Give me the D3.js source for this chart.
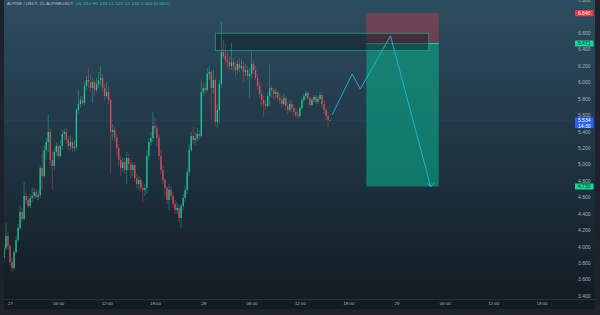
<!DOCTYPE html>
<html><head><meta charset="utf-8">
<script src="https://cdn.jsdelivr.net/npm/d3@7"></script>
<style>html,body{margin:0;padding:0;background:#1e222d;overflow:hidden}svg{display:block}</style>
</head><body><svg id="c" width="600" height="315"></svg>
<script>
// ---- data (ALPINE/USDT 15m) ----
const firstCandle = "2021-12-26T23:15";
const opens = [3.859,3.981,4.127,4.005,3.810,3.737,3.932,4.078,4.224,4.419,4.334,4.614,4.565,4.492,4.589,4.614,4.662,4.602,4.626,4.955,4.857,5.174,5.271,5.393,5.052,4.979,5.150,5.223,5.101,5.223,5.369,5.393,5.296,5.223,5.271,5.198,5.211,5.661,5.734,5.783,5.746,5.954,6.027,6.002,5.929,6.002,5.905,5.978,6.027,6.051,5.929,5.832,5.880,5.783,5.393,5.418,5.332,5.198,5.052,4.955,5.028,4.930,5.077,5.003,4.930,4.991,4.833,4.760,4.809,4.711,4.687,4.711,5.101,5.271,5.320,5.466,5.442,5.320,5.101,4.930,4.809,4.711,4.565,4.687,4.614,4.516,4.443,4.468,4.346,4.492,4.589,4.687,4.906,5.174,5.345,5.296,5.320,5.369,5.345,5.880,5.929,5.905,6.100,6.124,5.929,6.027,5.515,5.661,5.978,6.368,6.319,6.270,6.246,6.197,6.246,6.197,6.148,6.222,6.173,6.197,6.124,6.148,6.075,6.100,6.222,6.148,6.051,5.954,5.856,5.783,5.734,5.710,5.832,5.929,5.905,5.856,5.880,5.807,5.783,5.734,5.807,5.710,5.661,5.734,5.686,5.637,5.600,5.588,5.686,5.783,5.832,5.868,5.807,5.722,5.783,5.820,5.759,5.795,5.844,5.734,5.661,5.588,5.534];
const highs = [4.029,4.285,4.175,4.029,3.859,3.956,4.127,4.273,4.504,4.468,4.784,4.662,4.614,4.638,4.723,4.711,4.699,4.687,4.979,5.137,5.235,5.320,5.600,5.442,5.174,5.198,5.271,5.259,5.296,5.418,5.442,5.442,5.345,5.357,5.320,5.296,5.686,5.905,5.832,5.832,6.002,6.075,6.173,6.088,6.051,6.027,6.051,6.124,6.197,6.100,5.978,6.002,5.954,5.807,5.491,5.466,5.369,5.247,5.101,5.077,5.077,5.150,5.125,5.052,5.028,5.028,4.882,4.857,4.833,4.784,4.760,5.174,5.320,5.393,5.637,5.564,5.491,5.369,5.174,4.979,4.833,4.736,4.760,4.736,4.662,4.565,4.541,4.516,4.516,4.638,4.736,4.955,5.247,5.393,5.454,5.393,5.442,5.418,6.027,5.978,6.002,6.173,6.197,6.148,6.148,6.051,5.734,6.027,6.733,6.514,6.465,6.368,6.319,6.477,6.295,6.246,6.270,6.295,6.270,6.246,6.222,6.197,6.173,6.368,6.270,6.197,6.100,6.002,5.905,5.832,5.783,5.880,6.222,5.954,5.929,5.929,5.905,5.856,5.832,5.856,5.832,5.759,5.783,5.783,5.734,5.686,5.661,5.710,5.807,5.856,5.893,5.893,5.832,5.807,5.844,5.844,5.832,5.880,5.868,5.783,5.686,5.637,5.535];
const lows = [3.810,3.956,3.956,3.761,3.688,3.712,3.907,4.054,4.200,4.297,4.309,4.516,4.468,4.468,4.541,4.577,4.577,4.565,4.589,4.687,4.833,5.052,5.150,4.979,4.687,4.930,5.101,5.052,5.077,5.174,5.296,5.247,5.174,5.174,5.150,5.150,5.174,5.612,5.686,5.710,5.722,5.905,5.929,5.880,5.746,5.832,5.880,5.929,5.954,5.880,5.783,5.807,5.734,4.894,5.296,5.271,5.101,4.979,4.857,4.906,4.882,4.760,4.930,4.833,4.857,4.784,4.711,4.687,4.662,4.528,4.614,4.638,5.052,5.223,5.271,5.369,5.223,5.052,4.882,4.760,4.602,4.516,4.443,4.565,4.468,4.395,4.395,4.285,4.224,4.443,4.541,4.638,4.857,5.150,5.247,5.235,5.271,5.296,5.320,5.832,5.856,5.880,6.027,5.539,5.856,5.466,5.442,5.491,5.929,6.295,6.222,6.173,6.148,6.148,6.124,6.075,6.112,6.124,6.148,6.002,6.075,6.027,5.807,6.051,6.100,6.027,5.905,5.807,5.710,5.576,5.661,5.686,5.710,5.807,5.783,5.807,5.759,5.734,5.686,5.710,5.661,5.612,5.637,5.637,5.588,5.564,5.552,5.564,5.661,5.759,5.795,5.783,5.698,5.710,5.759,5.734,5.734,5.783,5.686,5.612,5.539,5.454,5.527];
const closes = [3.981,4.127,4.005,3.810,3.737,3.932,4.078,4.224,4.419,4.334,4.614,4.565,4.492,4.589,4.614,4.662,4.602,4.626,4.955,4.857,5.174,5.271,5.393,5.052,4.979,5.150,5.223,5.101,5.223,5.369,5.393,5.296,5.223,5.271,5.198,5.211,5.661,5.734,5.783,5.746,5.954,6.027,6.002,5.929,6.002,5.905,5.978,6.027,6.051,5.929,5.832,5.880,5.783,5.393,5.418,5.332,5.198,5.052,4.955,5.028,4.930,5.077,5.003,4.930,4.991,4.833,4.760,4.809,4.711,4.687,4.711,5.101,5.271,5.320,5.466,5.442,5.320,5.101,4.930,4.809,4.711,4.565,4.687,4.614,4.516,4.443,4.468,4.346,4.492,4.589,4.687,4.906,5.174,5.345,5.296,5.320,5.369,5.345,5.880,5.929,5.905,6.100,6.124,5.929,6.027,5.515,5.661,5.978,6.368,6.319,6.270,6.246,6.197,6.246,6.197,6.148,6.222,6.173,6.197,6.124,6.148,6.075,6.100,6.222,6.148,6.051,5.954,5.856,5.783,5.734,5.710,5.832,5.929,5.905,5.856,5.880,5.807,5.783,5.734,5.807,5.710,5.661,5.734,5.686,5.637,5.600,5.588,5.686,5.783,5.832,5.868,5.807,5.722,5.783,5.820,5.759,5.795,5.844,5.734,5.661,5.588,5.539,5.534];

// 6.800 is hidden behind the 6.840 stop tag in the reference, so it is not listed
const priceTicks = [3.4,3.6,3.8,4.0,4.2,4.4,4.6,4.8,5.0,5.2,5.4,5.6,5.8,6.0,6.2,6.4,6.6,7.0];
const timeTicks = ["2021-12-27T00:00","2021-12-27T06:00","2021-12-27T12:00","2021-12-27T18:00","2021-12-28T00:00","2021-12-28T06:00","2021-12-28T12:00","2021-12-28T18:00","2021-12-29T00:00","2021-12-29T06:00","2021-12-29T12:00","2021-12-29T18:00"];
const timeTickLabels = ["27","06:00","12:00","18:00","28","06:00","12:00","18:00","29","06:00","12:00","18:00"];

// supply zone rectangle
const zoneTimes = ["2021-12-28T01:30","2021-12-29T04:00"];
const zonePrices = [6.596, 6.385];
// short position: stop, entry, target
const positionTimes = ["2021-12-28T20:15","2021-12-29T05:15"];
const positionPrices = [6.840, 6.471, 4.730];
// projected path
const pathTimes = ["2021-12-28T16:00","2021-12-28T18:30","2021-12-28T19:30","2021-12-28T23:15","2021-12-29T04:15"];
const pathPrices = [5.600, 6.100, 5.917, 6.563, 4.727];
const lastPrice = 5.534;
const countdown = "14:30";
const titleMain = "ALPINE / USDT, 15, ALPINEUSDT";
const titleValues = "O5.534 H5.535 L5.527 C5.534 0.000 (0.00%)";

// ---- drawing ----
const parse = d3.timeParse("%Y-%m-%dT%H:%M");
const t0 = parse(firstCandle);
const candles = opens.map((o,i)=>({t:new Date(t0.getTime()+i*15*60000),o,h:highs[i],l:lows[i],c:closes[i]}));

const svg = d3.select("#c");
const W = 600, H = 315;
const x = d3.scaleTime().domain([parse("2021-12-27T00:00"), parse("2021-12-29T00:00")]).range([10, 396.5]);
const y = d3.scaleLinear().domain([3.4, 6.8]).range([295.7, 16.5]);

const defs = svg.append("defs");
const g = defs.append("linearGradient").attr("id","bg").attr("x1",0).attr("y1",0).attr("x2",0).attr("y2",1);
g.append("stop").attr("offset","0").attr("stop-color","#2d4e60");
g.append("stop").attr("offset","0.5").attr("stop-color","#1f3442");
g.append("stop").attr("offset","1").attr("stop-color","#121b22");
defs.append("clipPath").attr("id","plot").append("rect").attr("x",4).attr("y",0).attr("width",568).attr("height",299);

svg.append("rect").attr("width",W).attr("height",H).attr("fill","#1e222d");
svg.append("rect").attr("x",4).attr("y",0).attr("width",591).attr("height",309).attr("fill","url(#bg)");
svg.append("line").attr("x1",4).attr("x2",595).attr("y1",299.5).attr("y2",299.5).attr("stroke","#2a3943").attr("stroke-width",0.8);

const plot = svg.append("g").attr("clip-path","url(#plot)");

// position box
const px0 = x(parse(positionTimes[0])), px1 = x(parse(positionTimes[1]));
plot.append("rect").attr("x",px0).attr("width",px1-px0)
  .attr("y",y(positionPrices[0])).attr("height",y(positionPrices[1])-y(positionPrices[0]))
  .attr("fill","rgba(242,54,69,0.33)");
plot.append("rect").attr("x",px0).attr("width",px1-px0)
  .attr("y",y(positionPrices[1])).attr("height",y(positionPrices[2])-y(positionPrices[1]))
  .attr("fill","rgba(8,170,135,0.6)");
plot.append("line").attr("x1",px0).attr("x2",px1).attr("y1",y(positionPrices[1])).attr("y2",y(positionPrices[1]))
  .attr("stroke","#2bd4a6").attr("stroke-width",0.9);
plot.append("line").attr("x1",px0).attr("x2",px1).attr("y1",y(positionPrices[2])).attr("y2",y(positionPrices[2]))
  .attr("stroke","#14584f").attr("stroke-width",0.8);

// zone
const zx0 = x(parse(zoneTimes[0])), zx1 = x(parse(zoneTimes[1]));
plot.append("rect").attr("x",zx0).attr("width",zx1-zx0)
  .attr("y",y(zonePrices[0])).attr("height",y(zonePrices[1])-y(zonePrices[0]))
  .attr("fill","rgba(14,24,34,0.45)").attr("stroke","rgba(36,180,150,0.7)").attr("stroke-width",0.9);

// last price line
plot.append("line").attr("x1",4).attr("x2",572).attr("y1",y(lastPrice)).attr("y2",y(lastPrice))
  .attr("stroke","#2962ff").attr("stroke-opacity",0.35).attr("stroke-width",0.7).attr("stroke-dasharray","1,1");

// candles
const up = "#1ed49e", dn = "#e4525d";
const cg = plot.append("g");
cg.selectAll("line").data(candles).join("line")
  .attr("x1",d=>x(d.t)).attr("x2",d=>x(d.t)).attr("y1",d=>y(d.h)).attr("y2",d=>y(d.l))
  .attr("stroke",d=>d.c>=d.o?up:dn).attr("stroke-width",0.5).attr("stroke-opacity",0.8);
cg.selectAll("rect").data(candles).join("rect")
  .attr("x",d=>x(d.t)-0.65).attr("width",1.3)
  .attr("y",d=>y(Math.max(d.o,d.c))).attr("height",d=>Math.max(0.6,Math.abs(y(d.o)-y(d.c))))
  .attr("fill",d=>d.c>=d.o?up:dn).attr("fill-opacity",0.9);

// path
const line = d3.line().x(d=>x(d[0])).y(d=>y(d[1]));
const pts = pathTimes.map((t,i)=>[parse(t), pathPrices[i]]);
plot.append("path").attr("d",line(pts)).attr("fill","none").attr("stroke","#1fb6dd").attr("stroke-width",0.9);
const end = pts[pts.length-1];
const ex = x(end[0]), ey = y(end[1]);
plot.append("path").attr("d",`M${ex-3.5},${ey-3.5}L${ex},${ey}L${ex+3.5},${ey-4}`).attr("fill","none").attr("stroke","#1fb6dd").attr("stroke-width",0.9);

// axes
const font = "'Liberation Sans', Arial, sans-serif";
const ya = svg.append("g").attr("transform","translate(575,0)")
  .call(d3.axisRight(y).tickValues(priceTicks).tickFormat(d3.format(".3f")).tickSize(0).tickPadding(3));
ya.select(".domain").remove();
ya.selectAll("text").attr("font-size",5).attr("font-family",font).attr("fill","#aab0ba");

const xa = svg.append("g").attr("transform","translate(0,299.5)")
  .call(d3.axisBottom(x).tickValues(timeTicks.map(parse)).tickFormat((d,i)=>timeTickLabels[i]).tickSize(0).tickPadding(2.5));
xa.select(".domain").remove();
xa.selectAll("text").attr("font-size",4.4).attr("font-family",font).attr("fill","#aab0ba");

// price labels
function tag(price, fill, txtFill, lines){
  const cy = y(price);
  const h = lines.length>1 ? 11 : 6.2;
  svg.append("rect").attr("x",575).attr("y",cy-3.1).attr("width",18.5).attr("height",h).attr("fill",fill).attr("rx",0.6);
  lines.forEach((s,i)=>{
    svg.append("text").attr("x",584.2).attr("y",cy+1.7+i*5.4).attr("text-anchor","middle")
      .attr("font-size",5).attr("font-family",font).attr("fill",txtFill).text(s);
  });
}
tag(positionPrices[0], "#f23645", "#ffffff", [d3.format(".3f")(positionPrices[0])]);
tag(positionPrices[1], "#12d99a", "#0d2b24", [d3.format(".3f")(positionPrices[1])]);
tag(positionPrices[2], "#12d99a", "#0d2b24", [d3.format(".3f")(positionPrices[2])]);
tag(lastPrice, "#2962ff", "#ffffff", [d3.format(".3f")(lastPrice), countdown]);

// title
svg.append("text").attr("x",7).attr("y",4.6).attr("font-size",4.3).attr("font-family",font)
  .attr("fill","#b8bec8").attr("textLength",66).text(titleMain);
svg.append("text").attr("x",76).attr("y",4.6).attr("font-size",4.3).attr("font-family",font)
  .attr("fill","#1ed49e").attr("textLength",94).text(titleValues);
</script></body></html>
